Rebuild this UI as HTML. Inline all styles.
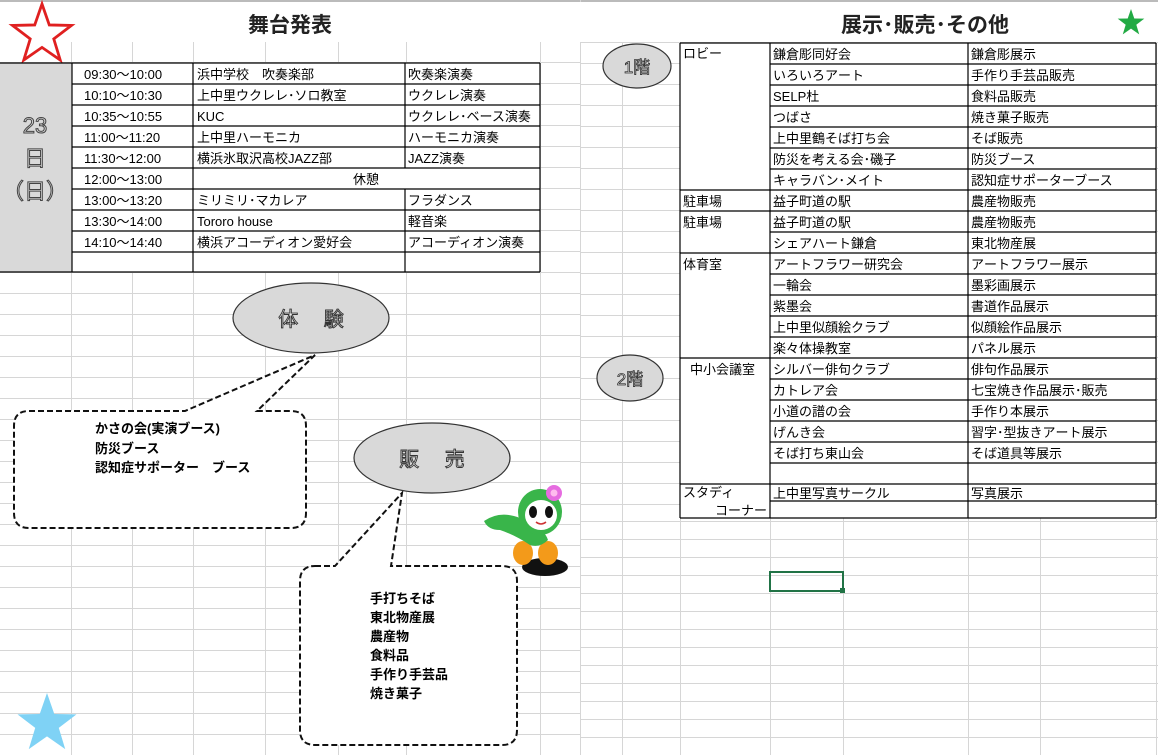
<!DOCTYPE html>
<html><head><meta charset="utf-8"><style>
html,body{margin:0;padding:0;background:#fff;}
svg{display:block;}
text{font-family:"Liberation Sans","Noto Sans CJK JP",sans-serif;}
</style></head><body>
<svg width="1158" height="755" viewBox="0 0 1158 755" xmlns="http://www.w3.org/2000/svg">
<defs>
<pattern id="hl" x="0" y="0" width="10" height="21" patternUnits="userSpaceOnUse"><rect x="0" y="20" width="10" height="1" fill="#d6d6d6"/></pattern>
<pattern id="hr" x="0" y="1" width="10" height="21" patternUnits="userSpaceOnUse"><rect x="0" y="20" width="10" height="1" fill="#d6d6d6"/></pattern>
<pattern id="hr2" x="0" y="0" width="10" height="18" patternUnits="userSpaceOnUse"><rect x="0" y="17" width="10" height="1" fill="#d6d6d6"/></pattern>
<polygon id="star" points="0,-1 .235,-.324 .951,-.309 .380,.124 .588,.809 0,.4 -.588,.809 -.380,.124 -.951,-.309 -.235,-.324"/>
</defs>
<rect x="0" y="0" width="1158" height="2" fill="#bbb"/>
<!-- left grid -->
<rect x="0" y="42" width="580" height="713" fill="url(#hl)"/>
<g fill="#d6d6d6">
<rect x="71" y="42" width="1" height="713"/><rect x="132" y="42" width="1" height="713"/><rect x="193" y="42" width="1" height="713"/><rect x="265" y="42" width="1" height="713"/><rect x="338" y="42" width="1" height="713"/><rect x="406" y="42" width="1" height="713"/><rect x="540" y="42" width="1" height="713"/>
</g>
<!-- right grid -->
<rect x="580" y="42" width="578" height="477" fill="url(#hr)"/>
<rect x="580" y="518" width="578" height="237" fill="url(#hr2)"/>
<g fill="#d6d6d6">
<rect x="580" y="0" width="1" height="755"/><rect x="622" y="42" width="1" height="713"/><rect x="680" y="42" width="1" height="713"/><rect x="770" y="42" width="1" height="713"/><rect x="843" y="42" width="1" height="713"/><rect x="968" y="42" width="1" height="713"/><rect x="1040" y="518" width="1" height="237"/><rect x="1156" y="42" width="1" height="713"/>
</g>
<!-- titles -->
<rect x="0" y="2" width="1158" height="40" fill="#fff"/>
<text x="290" y="32" font-size="21" font-weight="bold" text-anchor="middle" fill="#222">舞台発表</text>
<text x="925" y="32" font-size="21" font-weight="bold" text-anchor="middle" fill="#222">展示･販売･その他</text>
<use href="#star" transform="translate(42,35) scale(31)" fill="#fff" stroke="#e02020" stroke-width="0.09"/>
<use href="#star" transform="translate(1131,23) scale(14)" fill="#22aa44"/>
<use href="#star" transform="translate(47,724) scale(31)" fill="#7fd2f5"/>

<!-- left table -->
<rect x="0" y="63" width="72" height="209" fill="#d9d9d9"/>
<rect x="72" y="63" width="468" height="209" fill="#fff"/>
<g fill="#d9d9d9" stroke="#444" stroke-width="1" font-size="22" text-anchor="middle">
<text x="35" y="133">23</text><text x="35" y="166">日</text><text x="35" y="199">（日）</text>
</g>
<g stroke="#000" stroke-width="1.2" fill="none">
<line x1="0" y1="63" x2="540" y2="63"/>
<line x1="72" y1="84" x2="540" y2="84"/><line x1="72" y1="105" x2="540" y2="105"/><line x1="72" y1="126" x2="540" y2="126"/><line x1="72" y1="147" x2="540" y2="147"/><line x1="72" y1="168" x2="540" y2="168"/><line x1="72" y1="189" x2="540" y2="189"/><line x1="72" y1="210" x2="540" y2="210"/><line x1="72" y1="231" x2="540" y2="231"/><line x1="72" y1="252" x2="540" y2="252"/>
<line x1="0" y1="272" x2="540" y2="272"/>
<line x1="72" y1="63" x2="72" y2="272"/><line x1="193" y1="63" x2="193" y2="272"/><line x1="540" y1="63" x2="540" y2="272"/>
<line x1="405" y1="63" x2="405" y2="168"/><line x1="405" y1="189" x2="405" y2="272"/>
</g>
<g font-size="13" fill="#000">
<text x="84" y="79">09:30～10:00</text><text x="197" y="79">浜中学校　吹奏楽部</text><text x="408" y="79">吹奏楽演奏</text>
<text x="84" y="100">10:10～10:30</text><text x="197" y="100">上中里ウクレレ･ソロ教室</text><text x="408" y="100">ウクレレ演奏</text>
<text x="84" y="121">10:35～10:55</text><text x="197" y="121">KUC</text><text x="408" y="121">ウクレレ･ベース演奏</text>
<text x="84" y="142">11:00～11:20</text><text x="197" y="142">上中里ハーモニカ</text><text x="408" y="142">ハーモニカ演奏</text>
<text x="84" y="163">11:30～12:00</text><text x="197" y="163">横浜氷取沢高校JAZZ部</text><text x="408" y="163">JAZZ演奏</text>
<text x="84" y="184">12:00～13:00</text><text x="366" y="184" text-anchor="middle">休憩</text>
<text x="84" y="205">13:00～13:20</text><text x="197" y="205">ミリミリ･マカレア</text><text x="408" y="205">フラダンス</text>
<text x="84" y="226">13:30～14:00</text><text x="197" y="226">Tororo house</text><text x="408" y="226">軽音楽</text>
<text x="84" y="247">14:10～14:40</text><text x="197" y="247">横浜アコーディオン愛好会</text><text x="408" y="247">アコーディオン演奏</text>
</g>

<!-- callouts -->
<path d="M29,411 H185 L315,355 L257,411 H291 Q306,411 306,426 V513 Q306,528 291,528 H29 Q14,528 14,513 V426 Q14,411 29,411 Z" fill="#fff" stroke="#111" stroke-width="2" stroke-dasharray="6,3"/>
<g font-size="13" font-weight="bold" fill="#000">
<text x="95" y="433">かさの会(実演ブース)</text><text x="95" y="453">防災ブース</text><text x="95" y="472">認知症サポーター　ブース</text>
</g>
<path d="M315,566 H335 L402,493 L391,566 H502 Q517,566 517,581 V730 Q517,745 502,745 H315 Q300,745 300,730 V581 Q300,566 315,566 Z" fill="#fff" stroke="#111" stroke-width="2" stroke-dasharray="6,3"/>
<g font-size="13" font-weight="bold" fill="#000">
<text x="370" y="603">手打ちそば</text><text x="370" y="622">東北物産展</text><text x="370" y="641">農産物</text><text x="370" y="660">食料品</text><text x="370" y="679">手作り手芸品</text><text x="370" y="698">焼き菓子</text>
</g>
<ellipse cx="311" cy="318" rx="78" ry="35" fill="#d9d9d9" stroke="#333" stroke-width="1.2"/>
<text x="311" y="326" font-size="20" text-anchor="middle" fill="#eee" stroke="#333" stroke-width="0.9">体　 験</text>
<ellipse cx="432" cy="458" rx="78" ry="35" fill="#d9d9d9" stroke="#333" stroke-width="1.2"/>
<text x="432" y="466" font-size="20" text-anchor="middle" fill="#eee" stroke="#333" stroke-width="0.9">販　 売</text>

<!-- mascot -->
<g>
<ellipse cx="545" cy="567" rx="23" ry="9" fill="#111"/>
<ellipse cx="523" cy="553" rx="10" ry="12" fill="#f39a1a"/>
<ellipse cx="548" cy="553" rx="10" ry="12" fill="#f39a1a"/>
<path d="M484,521 Q500,510 520,518 L530,525 Q545,530 548,540 Q540,548 530,545 Q515,535 500,530 Q488,530 484,521Z" fill="#39b54a"/>
<ellipse cx="540" cy="512" rx="22" ry="23" fill="#39b54a"/>
<ellipse cx="541" cy="515" rx="16" ry="15" fill="#fff"/>
<ellipse cx="533" cy="512" rx="4" ry="6" fill="#111"/>
<ellipse cx="549" cy="512" rx="4" ry="6" fill="#111"/>
<path d="M536,522 Q541,526 546,522" stroke="#c33" stroke-width="1.5" fill="none"/>
<circle cx="554" cy="493" r="8" fill="#e66ce0"/>
<circle cx="554" cy="493" r="3.5" fill="#fbe"/>
</g>

<!-- right table -->
<rect x="680" y="43" width="476" height="475" fill="#fff"/>
<g stroke="#000" stroke-width="1.2" fill="none">
<line x1="680" y1="43" x2="1156" y2="43"/>
<line x1="770" y1="64" x2="1156" y2="64"/><line x1="770" y1="85" x2="1156" y2="85"/><line x1="770" y1="106" x2="1156" y2="106"/><line x1="770" y1="127" x2="1156" y2="127"/><line x1="770" y1="148" x2="1156" y2="148"/><line x1="770" y1="169" x2="1156" y2="169"/>
<line x1="680" y1="190" x2="1156" y2="190"/><line x1="680" y1="211" x2="1156" y2="211"/>
<line x1="770" y1="232" x2="1156" y2="232"/>
<line x1="680" y1="253" x2="1156" y2="253"/>
<line x1="770" y1="274" x2="1156" y2="274"/><line x1="770" y1="295" x2="1156" y2="295"/><line x1="770" y1="316" x2="1156" y2="316"/><line x1="770" y1="337" x2="1156" y2="337"/>
<line x1="680" y1="358" x2="1156" y2="358"/>
<line x1="770" y1="379" x2="1156" y2="379"/><line x1="770" y1="400" x2="1156" y2="400"/><line x1="770" y1="421" x2="1156" y2="421"/><line x1="770" y1="442" x2="1156" y2="442"/><line x1="770" y1="463" x2="1156" y2="463"/>
<line x1="680" y1="484" x2="1156" y2="484"/><line x1="770" y1="501" x2="1156" y2="501"/>
<line x1="680" y1="518" x2="1156" y2="518"/>
<line x1="680" y1="43" x2="680" y2="518"/><line x1="770" y1="43" x2="770" y2="518"/><line x1="968" y1="43" x2="968" y2="518"/><line x1="1156" y1="43" x2="1156" y2="518"/>
</g>
<g font-size="13" fill="#000">
<text x="683" y="58">ロビー</text>
<text x="773" y="59">鎌倉彫同好会</text><text x="971" y="59">鎌倉彫展示</text>
<text x="773" y="80">いろいろアート</text><text x="971" y="80">手作り手芸品販売</text>
<text x="773" y="101">SELP杜</text><text x="971" y="101">食料品販売</text>
<text x="773" y="122">つばさ</text><text x="971" y="122">焼き菓子販売</text>
<text x="773" y="143">上中里鶴そば打ち会</text><text x="971" y="143">そば販売</text>
<text x="773" y="164">防災を考える会･磯子</text><text x="971" y="164">防災ブース</text>
<text x="773" y="185">キャラバン･メイト</text><text x="971" y="185">認知症サポーターブース</text>
<text x="683" y="206">駐車場</text><text x="773" y="206">益子町道の駅</text><text x="971" y="206">農産物販売</text>
<text x="683" y="227">駐車場</text><text x="773" y="227">益子町道の駅</text><text x="971" y="227">農産物販売</text>
<text x="773" y="248">シェアハート鎌倉</text><text x="971" y="248">東北物産展</text>
<text x="683" y="269">体育室</text><text x="773" y="269">アートフラワー研究会</text><text x="971" y="269">アートフラワー展示</text>
<text x="773" y="290">一輪会</text><text x="971" y="290">墨彩画展示</text>
<text x="773" y="311">紫墨会</text><text x="971" y="311">書道作品展示</text>
<text x="773" y="332">上中里似顔絵クラブ</text><text x="971" y="332">似顔絵作品展示</text>
<text x="773" y="353">楽々体操教室</text><text x="971" y="353">パネル展示</text>
<text x="690" y="374">中小会議室</text><text x="773" y="374">シルバー俳句クラブ</text><text x="971" y="374">俳句作品展示</text>
<text x="773" y="395">カトレア会</text><text x="971" y="395">七宝焼き作品展示･販売</text>
<text x="773" y="416">小道の譜の会</text><text x="971" y="416">手作り本展示</text>
<text x="773" y="437">げんき会</text><text x="971" y="437">習字･型抜きアート展示</text>
<text x="773" y="458">そば打ち東山会</text><text x="971" y="458">そば道具等展示</text>
<text x="683" y="497">スタディ</text><text x="773" y="498">上中里写真サークル</text><text x="971" y="498">写真展示</text>
<text x="767" y="515" text-anchor="end">コーナー</text>
</g>
<ellipse cx="637" cy="66" rx="34" ry="22" fill="#d9d9d9" stroke="#333" stroke-width="1.2"/>
<text x="637" y="73" font-size="17" text-anchor="middle" fill="#eee" stroke="#333" stroke-width="0.8">1階</text>
<ellipse cx="630" cy="378" rx="33" ry="23" fill="#d9d9d9" stroke="#333" stroke-width="1.2"/>
<text x="630" y="385" font-size="17" text-anchor="middle" fill="#eee" stroke="#333" stroke-width="0.8">2階</text>
<rect x="770" y="572" width="73" height="19" fill="none" stroke="#217346" stroke-width="2"/>
<rect x="840" y="588" width="5" height="5" fill="#217346"/>
</svg>
</body></html>
